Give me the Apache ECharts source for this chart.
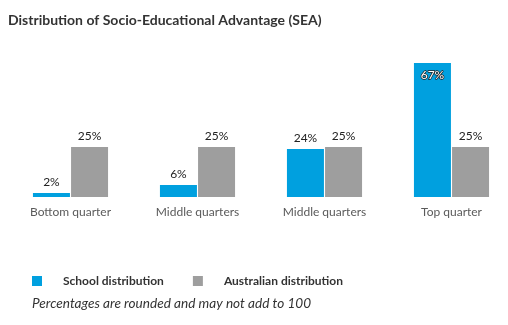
<!DOCTYPE html>
<html>
<head>
<meta charset="utf-8">
<script src="https://cdn.jsdelivr.net/npm/echarts@6/dist/echarts.min.js"></script>
<style>
  html, body { margin: 0; padding: 0; background: #fff; overflow: hidden; }
  #chart { width: 516px; height: 325px; }
</style>
</head>
<body>
<div id="chart"></div>
<script>
// SEA quarters and the share of students in each
var categories = ['Bottom quarter', 'Middle quarters', 'Middle quarters', 'Top quarter'];
var schoolValues = [2, 6, 24, 67];
var australianValues = [25, 25, 25, 25];
var seriesNames = ['School distribution', 'Australian distribution'];

var FONT = 'Lato, "Open Sans", sans-serif';
var BLUE = '#00a0df';
var GREY = '#9e9e9e';

// Largest bar gets its label inside, the rest sit above
function labelFor(v) {
  if (v > 50) {
    return {
      position: 'insideTop', distance: 6, color: '#fff',
      textBorderColor: '#222', textBorderWidth: 1.5
    };
  }
  return { position: 'top', distance: 5, color: '#222' };
}

var chart = echarts.init(document.getElementById('chart'), null, { renderer: 'canvas' });
chart.setOption({
  animation: false,
  title: [{
    text: 'Distribution of Socio-Educational Advantage (SEA)',
    left: 3, top: 8,
    textStyle: { fontFamily: FONT, fontSize: 14, fontWeight: 'bold', color: '#333' }
  }, {
    text: 'Percentages are rounded and may not add to 100',
    left: 27, top: 292,
    textStyle: { fontFamily: FONT, fontSize: 13.6, fontWeight: 'normal', fontStyle: 'italic', color: '#333' }
  }],
  legend: {
    data: seriesNames,
    left: 27, top: 270,
    itemWidth: 10, itemHeight: 10, itemGap: 29,
    icon: 'rect',
    textStyle: { fontFamily: FONT, fontSize: 12, fontWeight: 'bold', color: '#333', padding: [0, 0, 0, 16] }
  },
  grid: { left: 7, right: 1, top: 57, height: 140, containLabel: false },
  xAxis: {
    type: 'category',
    data: categories,
    axisLine: { show: false },
    axisTick: { show: false },
    axisLabel: { fontFamily: FONT, fontSize: 12, color: '#5a5a5a', margin: 9 }
  },
  yAxis: {
    type: 'value', min: 0, max: 70,
    show: false,
    splitLine: { show: false }
  },
  series: [{
    name: seriesNames[0],
    type: 'bar',
    barWidth: 37,
    barGap: '3%',
    itemStyle: { color: BLUE },
    data: schoolValues.map(function (v) {
      return { value: v, label: labelFor(v) };
    }),
    label: { show: true, fontFamily: FONT, fontSize: 12, formatter: '{c}%' }
  }, {
    name: seriesNames[1],
    type: 'bar',
    barWidth: 37,
    itemStyle: { color: GREY },
    data: australianValues.map(function (v) {
      return { value: v, label: labelFor(v) };
    }),
    label: { show: true, fontFamily: FONT, fontSize: 12, formatter: '{c}%' }
  }]
});
</script>
</body>
</html>
